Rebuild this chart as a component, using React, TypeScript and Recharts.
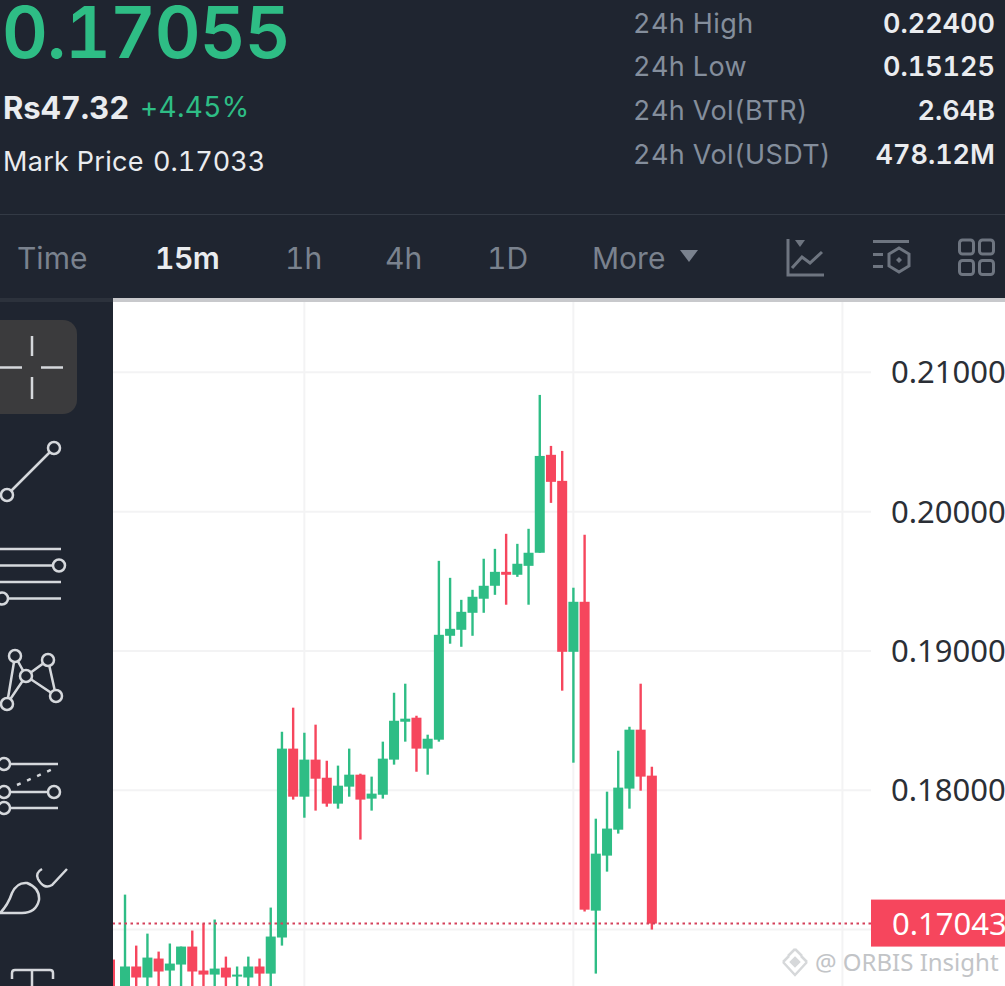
import { Bar, CartesianGrid, ComposedChart, ReferenceLine, XAxis, YAxis } from 'recharts'

const UP = '#2EBD85'
const DOWN = '#F6465D'
const PANEL = '#1F2530'
const GRID = '#F3F3F4'
const UI_FONT = 'Inter, sans-serif'

const firstIndex = -1
const opens = [
  0.1657, 0.1657, 0.16735, 0.16656, 0.16792, 0.16706, 0.16749, 0.16878, 0.16706, 0.16677, 0.16727, 0.16663,
  0.16656, 0.16735, 0.16684, 0.16943, 0.18299, 0.17954, 0.1822, 0.1809, 0.17904, 0.18026, 0.18112, 0.1794,
  0.17968, 0.1822, 0.18492, 0.18521, 0.18299, 0.18363, 0.19109, 0.19152, 0.19274, 0.19375, 0.19468, 0.19568,
  0.19547, 0.19611, 0.19705, 0.20408, 0.20221, 0.18994, 0.19353, 0.17136, 0.17531, 0.17717, 0.18012, 0.18435,
  0.18105,
]
const highs = [
  0.16785, 0.17251, 0.16885, 0.16971, 0.16842, 0.169, 0.16878, 0.16993, 0.17043, 0.17072, 0.16806, 0.16735,
  0.16806, 0.16792, 0.17158, 0.1842, 0.18593, 0.18413, 0.18471, 0.18212, 0.18177, 0.18299, 0.18119, 0.18098,
  0.18349, 0.187, 0.18765, 0.18535, 0.18399, 0.19647, 0.19525, 0.19367, 0.19439, 0.19662, 0.19733, 0.19841,
  0.19769, 0.19877, 0.20838, 0.20472, 0.20436, 0.19454, 0.19834, 0.17796, 0.1799, 0.18284, 0.18456, 0.18765,
  0.18169,
]
const lows = [
  0.16462, 0.16498, 0.16555, 0.16534, 0.16555, 0.1657, 0.1657, 0.1657, 0.16555, 0.16555, 0.16555, 0.1657,
  0.16555, 0.1657, 0.16555, 0.16885, 0.17933, 0.17803, 0.17854, 0.17882, 0.17868, 0.17954, 0.17646, 0.17854,
  0.1794, 0.18184, 0.18349, 0.18133, 0.18112, 0.18349, 0.19052, 0.1903, 0.19109, 0.19274, 0.19403, 0.19332,
  0.19532, 0.19332, 0.19705, 0.20063, 0.18715, 0.18198, 0.17129, 0.16684, 0.17416, 0.17689, 0.17868, 0.17997,
  0.17,
]
const closes = [
  0.16498, 0.16735, 0.16656, 0.16799, 0.16699, 0.16756, 0.16878, 0.16699, 0.16677, 0.1672, 0.16656, 0.16677,
  0.16735, 0.16684, 0.1695, 0.18299, 0.17954, 0.1822, 0.18083, 0.17904, 0.18033, 0.18112, 0.17933, 0.17976,
  0.18227, 0.18499, 0.18514, 0.18299, 0.1837, 0.19116, 0.19159, 0.19281, 0.19389, 0.19468, 0.19568, 0.19547,
  0.19626, 0.19705, 0.204, 0.20214, 0.18994, 0.19353, 0.17143, 0.17545, 0.17725, 0.18019, 0.18435, 0.18098,
  0.17043,
]

const priceTicks = [0.17, 0.18, 0.19, 0.2, 0.21]
const timeTicks = [16, 40, 64]
const timeDomain = [-1.07, 66.55]
const lastPrice = 0.17043

const statLabels = ['24h High', '24h Low', '24h Vol(BTR)', '24h Vol(USDT)']
const statValues = ['0.22400', '0.15125', '2.64B', '478.12M']
const intervals = ['Time', '15m', '1h', '4h', '1D', 'More']

const candles = opens.map((open, i) => ({
  index: firstIndex + i,
  open,
  high: highs[i],
  low: lows[i],
  close: closes[i],
  range: [lows[i], highs[i]],
}))

function Candle(props: any) {
  const { x, y, width, height, payload } = props
  const color = payload.close >= payload.open ? UP : DOWN
  const mid = x + width / 2
  const perPrice = height / (payload.high - payload.low)
  const yOf = (price: number) => y + (payload.high - price) * perPrice
  const top = yOf(Math.max(payload.open, payload.close))
  const bottom = yOf(Math.min(payload.open, payload.close))
  return (
    <g>
      <line x1={mid} x2={mid} y1={y} y2={y + height} stroke={color} strokeWidth={2.4} />
      <rect x={mid - 5} y={top} width={10} height={Math.max(bottom - top, 2)} fill={color} />
    </g>
  )
}

function LastPriceLabel(props: any) {
  const { viewBox } = props
  const left = viewBox.x + viewBox.width
  return (
    <g>
      <rect x={left} y={viewBox.y - 24} width={134} height={47} fill={DOWN} />
      <text x={left + 21} y={viewBox.y + 11} fill="#fff" fontSize={31} fontFamily="'Noto Sans', sans-serif">
        {lastPrice.toFixed(5)}
      </text>
    </g>
  )
}

function Txt({ x, y, size, color, weight = 400, right, spacing = 0, lh = 1, children }: any) {
  const pos = right ? { right: 1005 - x } : { left: x }
  return (
    <span
      style={{
        position: 'absolute',
        top: y,
        ...pos,
        transform: 'translateY(-50%)',
        fontFamily: UI_FONT,
        fontSize: size,
        color,
        fontWeight: weight,
        fontVariantNumeric: 'tabular-nums',
        letterSpacing: spacing,
        lineHeight: lh,
        whiteSpace: 'nowrap',
      }}
    >
      {children}
    </span>
  )
}

function Header() {
  const intervalX = [17, 155, 285, 385, 487, 592]
  return (
    <>
      <Txt x={2} y={33} size={71} color={UP} weight={600} spacing={-1} lh={0.92}>0.17055</Txt>
      <Txt x={3} y={107} size={31} color="#EAECEF" weight={700}>Rs47.32</Txt>
      <Txt x={140} y={107} size={28} color={UP} spacing={0.3}>+4.45%</Txt>
      <Txt x={3} y={161} size={27} color="#EAECEF" spacing={0.3}>Mark Price</Txt>
      <Txt x={153} y={161} size={27} color="#EAECEF">0.17033</Txt>
      {statLabels.map((label, i) => (
        <Txt key={label} x={633} y={22.5 + i * 43.8} size={27} color="#848E9C" spacing={0.4}>{label}</Txt>
      ))}
      {statValues.map((value, i) => (
        <Txt key={value} x={995} y={22.5 + i * 43.8} size={27} color="#EAECEF" weight={600} right>{value}</Txt>
      ))}
      <div style={{ position: 'absolute', left: 0, top: 214, width: 1005, height: 1, background: '#333A45' }} />
      {intervals.map((label, i) => (
        <Txt key={label} x={intervalX[i]} y={258} size={30} color={i === 1 ? '#EAECEF' : '#7A828E'} weight={i === 1 ? 600 : 400} spacing={i === 1 ? -0.5 : 0}>
          {label}
        </Txt>
      ))}
      <svg width={1005} height={298} style={{ position: 'absolute', left: 0, top: 0 }} fill="none" stroke="#6E7580" strokeWidth={3}>
        <path d="M680 250 H698 L689 262 Z" fill="#7A828E" stroke="none" />
        <path d="M788 239 V275 H824" />
        <path d="M795 240 H805 L800 247 Z" fill="#6E7580" stroke="none" />
        <path d="M792 268 L802 257 L810 263 L822 252" />
        <path d="M873 241.5 H909 M873 254.5 H883 M873 266.5 H883" />
        <path d="M899 248 L909 254 V266 L899 272 L889 266 V254 Z" />
        <path d="M899 257 L902 260 L899 263 L896 260 Z" fill="#6E7580" stroke="none" />
        <rect x={959.5} y={240} width={14} height={14} rx={3} />
        <rect x={979.5} y={240} width={14} height={14} rx={3} />
        <rect x={959.5} y={260.5} width={14} height={14} rx={3} />
        <rect x={979.5} y={260.5} width={14} height={14} rx={3} />
      </svg>
      <div style={{ position: 'absolute', left: 0, top: 298, width: 113, height: 4, background: '#2C323C' }} />
      <div style={{ position: 'absolute', left: 113, top: 298, width: 892, height: 4, background: '#C8C9CC' }} />
    </>
  )
}

function Sidebar() {
  return (
    <svg width={113} height={684} viewBox="0 302 113 684" style={{ position: 'absolute', left: 0, top: 302 }} fill="none" stroke="#D5D8DC" strokeWidth={2.5}>
      <rect x={-14} y={320} width={91} height={94} rx={14} fill="#3B3B3D" stroke="none" />
      <path d="M32 336 V356 M32 377 V399 M0 367.5 H22 M41 367.5 H63" />
      <path d="M50 452 L11 491" />
      <circle cx={54} cy={448} r={6} />
      <circle cx={7} cy={495} r={6} />
      <path d="M0 549 H61 M0 565.5 H53 M0 582 H61 M8 598.5 H61" />
      <circle cx={59} cy={565.5} r={6} />
      <circle cx={2} cy={598.5} r={6} />
      <path d="M15 656 L7 704 L26 676 L15 656 M26 676 L48 660 L56 696 L26 676" />
      <g fill={PANEL}>
        <circle cx={15} cy={656} r={6} />
        <circle cx={48} cy={660} r={6} />
        <circle cx={26} cy={676} r={6} />
        <circle cx={7} cy={704} r={6} />
        <circle cx={56} cy={696} r={6} />
      </g>
      <path d="M10 764 H58 M10 792 H48 M10 808 H58" />
      <path d="M17 785 L53 769" strokeDasharray="4 7" />
      <circle cx={4} cy={764} r={6} />
      <circle cx={4} cy={792} r={6} />
      <circle cx={54} cy={792} r={6} />
      <circle cx={4} cy={808} r={6} />
      <path d="M42 869 Q35 873 38 879 Q44 890 52 885 L67 869" />
      <path d="M0 913 Q8 905 12 893 Q17 882 27 883 Q40 888 39 900 Q36 913 22 913 Z" />
      <path d="M12 979 V973 Q12 970 15 970 H50 Q53 970 53 973 V979 M32 970 V986" />
    </svg>
  )
}

function Watermark() {
  return (
    <>
      <svg width={30} height={30} style={{ position: 'absolute', left: 781, top: 947 }} fill="none" stroke="#D6D8DA" strokeWidth={2.5}>
        <path d="M14 2 L21 9 M14 2 L7 9 M2 15 L8 9 M26 15 L20 9 M2 15 L14 28 L26 15" />
        <path d="M14 11 L18 15 L14 19 L10 15 Z" fill="#D6D8DA" />
      </svg>
      <span
        style={{
          position: 'absolute',
          left: 815,
          top: 962,
          transform: 'translateY(-50%)',
          fontFamily: "'Noto Sans', sans-serif",
          fontSize: 24,
          lineHeight: 1,
          color: '#C2C4C7',
          whiteSpace: 'nowrap',
        }}
      >
        @ ORBIS Insight
      </span>
    </>
  )
}

// the grid's generator gets no usable x scale here, so map the ticks over the plot area
function timeGridLines({ offset }: any) {
  const span = timeDomain[1] - timeDomain[0]
  return timeTicks.map((t) => offset.left + (offset.width * (t - timeDomain[0])) / span)
}

export default function App() {
  return (
    <div style={{ position: 'absolute', left: 0, top: 0, width: 1005, height: 986, overflow: 'hidden', background: PANEL }}>
      <Header />
      <div style={{ position: 'absolute', left: 113, top: 302, width: 892, height: 684, background: '#fff' }}>
        <ComposedChart width={892} height={684} data={candles} margin={{ top: 0, right: 0, bottom: 0, left: 0 }}>
          <CartesianGrid stroke={GRID} strokeWidth={2} horizontalValues={priceTicks} verticalCoordinatesGenerator={timeGridLines} />
          <XAxis dataKey="index" type="number" domain={timeDomain} ticks={timeTicks} allowDataOverflow height={0} tick={false} axisLine={false} tickLine={false} />
          <YAxis
            orientation="right"
            width={134}
            domain={[0.16595, 0.21505]}
            ticks={priceTicks}
            allowDataOverflow
            axisLine={false}
            tickLine={false}
            tickMargin={14}
            tickFormatter={(v: number) => (v === 0.17 ? '' : v.toFixed(5))}
            tick={{ fontSize: 31, fill: '#2B2F36', fontFamily: "'Noto Sans', sans-serif", textAnchor: 'start' }}
          />
          <Bar dataKey="range" shape={<Candle />} isAnimationActive={false} />
          <ReferenceLine y={lastPrice} stroke="#D4405A" strokeWidth={2} strokeDasharray="2.5 3.5" label={<LastPriceLabel />} />
        </ComposedChart>
      </div>
      <Sidebar />
      <Watermark />
    </div>
  )
}
